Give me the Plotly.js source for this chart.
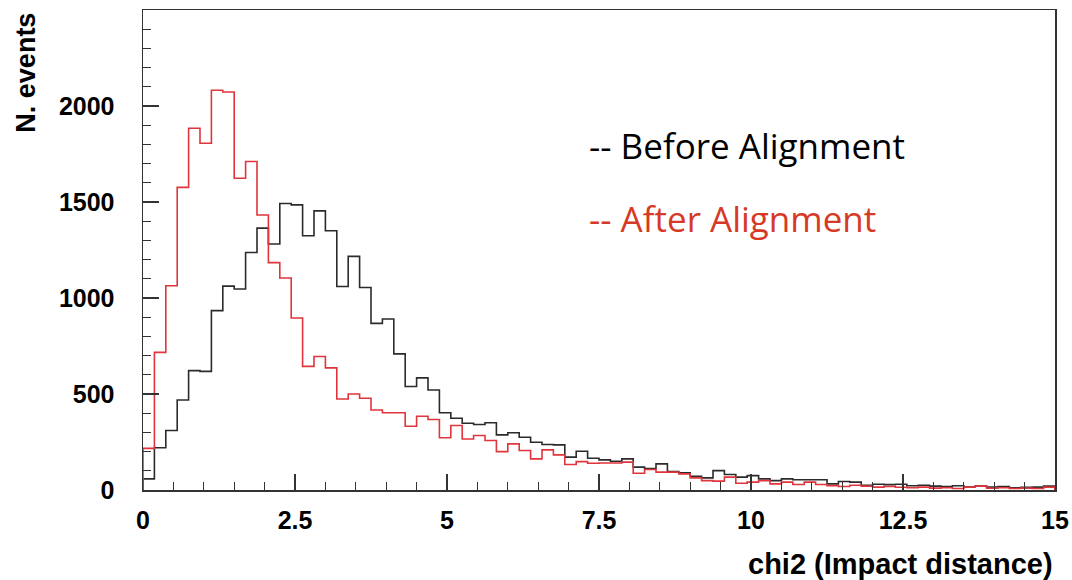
<!DOCTYPE html>
<html>
<head>
<meta charset="utf-8">
<script src="https://cdn.plot.ly/plotly-3.0.1.min.js"></script>
<style>
html,body{margin:0;padding:0;background:#fff;}
#chart{width:1072px;height:580px;}
</style>
</head>
<body>
<div id="chart"></div>
<script>
// Histogram range and binning
const xMin = 0;
const xMax = 15;
const nBins = 80;

// Bin contents
const beforeCounts = [
  58, 220, 310, 469, 622, 618, 934, 1062, 1047, 1237,
  1364, 1281, 1492, 1485, 1324, 1454, 1350, 1060, 1217, 1055,
  868, 891, 709, 539, 584, 521, 402, 374, 348, 341,
  350, 287, 298, 275, 249, 237, 235, 171, 202, 165,
  157, 150, 162, 119, 112, 136, 96, 89, 72, 63,
  101, 81, 67, 75, 58, 49, 58, 53, 53, 53,
  32, 44, 41, 25, 30, 28, 30, 22, 25, 20,
  18, 22, 16, 20, 15, 18, 12, 14, 15, 20
];
const afterCounts = [
  217, 717, 1064, 1576, 1884, 1806, 2082, 2073, 1624, 1711,
  1432, 1184, 1104, 896, 644, 695, 636, 474, 500, 478,
  417, 402, 402, 332, 384, 367, 272, 336, 266, 284,
  258, 200, 240, 206, 162, 209, 183, 133, 148, 139,
  141, 141, 145, 87, 107, 93, 93, 84, 63, 49,
  46, 67, 35, 41, 49, 32, 41, 29, 41, 29,
  23, 18, 25, 20, 15, 18, 14, 12, 15, 10,
  12, 8, 15, 20, 10, 12, 8, 10, 8, 15
];

const xTickVals = [0, 2.5, 5, 7.5, 10, 12.5, 15];
const xTickText = ['0', '2.5', '5', '7.5', '10', '12.5', '15'];
const yTickVals = [0, 500, 1000, 1500, 2000];
const yTickText = ['0', '500', '1000', '1500', '2000'];

const seriesNames = ['-- Before Alignment', '-- After Alignment'];
const xTitle = 'chi2 (Impact distance)';
const yTitle = 'N. events';

function stepTrace(counts, color, name) {
  const w = (xMax - xMin) / nBins;
  const xs = [xMin];
  const ys = [0];
  for (let i = 0; i < counts.length; i++) {
    xs.push(xMin + i * w);
    ys.push(counts[i]);
  }
  xs.push(xMax);
  ys.push(counts[counts.length - 1]);
  xs.push(xMax);
  ys.push(0);
  return {
    type: 'scatter', mode: 'lines', x: xs, y: ys, name: name,
    line: {shape: 'hv', color: color, width: 1.6},
    hoverinfo: 'skip', showlegend: false
  };
}

const traces = [
  stepTrace(beforeCounts, '#2b2b2b', seriesNames[0]),
  stepTrace(afterCounts, '#e0353d', seriesNames[1])
];

const tickFont = {family: 'Liberation Sans, Arial, sans-serif', size: 25, color: '#000', weight: 'bold'};

const layout = {
  width: 1072, height: 580,
  margin: {l: 143, r: 17, t: 10, b: 90, pad: 0},
  paper_bgcolor: '#fff', plot_bgcolor: '#fff',
  showlegend: false,
  xaxis: {
    range: [xMin, xMax], autorange: false,
    showgrid: false, zeroline: false,
    showline: true, mirror: true, linecolor: '#333', linewidth: 1.5,
    ticks: 'inside', ticklen: 16, tickwidth: 1.3, tickcolor: '#333',
    tickvals: xTickVals, ticktext: xTickText,
    minor: {dtick: 0.5, ticks: 'inside', ticklen: 8, tickwidth: 1.3, tickcolor: '#333', showgrid: false},
    tickfont: tickFont, ticklabelstandoff: 7
  },
  yaxis: {
    range: [0, 2500], autorange: false,
    showgrid: false, zeroline: false,
    showline: true, mirror: true, linecolor: '#333', linewidth: 1.5,
    ticks: 'inside', ticklen: 16, tickwidth: 1.3, tickcolor: '#333',
    tickvals: yTickVals, ticktext: yTickText,
    minor: {dtick: 100, ticks: 'inside', ticklen: 8, tickwidth: 1.3, tickcolor: '#333', showgrid: false},
    tickfont: tickFont, ticklabelstandoff: 22
  },
  annotations: [
    {xref: 'paper', yref: 'paper', x: 1, y: -0.155, xanchor: 'right', yanchor: 'middle',
     text: xTitle, showarrow: false,
     font: {family: 'Liberation Sans, Arial, sans-serif', size: 29, color: '#000', weight: 'bold'}},
    {xref: 'paper', yref: 'paper', x: -0.128, y: 0.87, xanchor: 'center', yanchor: 'middle',
     text: yTitle, textangle: -90, showarrow: false,
     font: {family: 'Liberation Sans, Arial, sans-serif', size: 27, color: '#000', weight: 'bold'}},
    {xref: 'paper', yref: 'paper', x: 0.487, y: 0.718, xanchor: 'left', yanchor: 'middle',
     text: seriesNames[0], showarrow: false,
     font: {family: 'Open Sans, Lato, sans-serif', size: 35, color: '#000'}},
    {xref: 'paper', yref: 'paper', x: 0.487, y: 0.566, xanchor: 'left', yanchor: 'middle',
     text: seriesNames[1], showarrow: false,
     font: {family: 'Open Sans, Lato, sans-serif', size: 35, color: '#d63a26'}}
  ]
};

Plotly.newPlot('chart', traces, layout, {displayModeBar: false, staticPlot: true});
</script>
</body>
</html>
